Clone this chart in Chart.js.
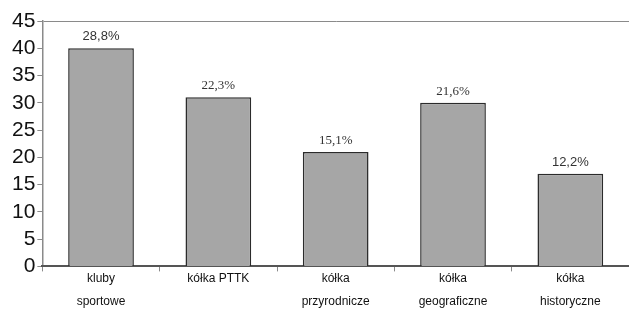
<!DOCTYPE html>
<html>
<head>
<meta charset="utf-8">
<script src="https://cdn.jsdelivr.net/npm/chart.js@4.4.1/dist/chart.umd.min.js"></script>
<style>
  body { margin: 0; background: #fff; }
  #wrap { width: 629px; height: 312px; }
</style>
</head>
<body>
<div id="wrap"><canvas id="chart"></canvas></div>
<script>
const categories = [['kluby', 'sportowe'], ['kółka PTTK'], ['kółka', 'przyrodnicze'], ['kółka', 'geograficzne'], ['kółka', 'historyczne']];
const counts = [40, 31, 21, 30, 17];
const shares = ['28,8%', '22,3%', '15,1%', '21,6%', '12,2%'];
// the source mixes fonts on the value labels
const shareFonts = ['sans', 'serif', 'serif', 'serif', 'sans'];

const valueLabels = {
  id: 'valueLabels',
  afterDatasetsDraw(chart) {
    const ctx = chart.ctx;
    const meta = chart.getDatasetMeta(0);
    ctx.save();
    ctx.textAlign = 'center';
    ctx.textBaseline = 'bottom';
    meta.data.forEach((bar, i) => {
      if (shareFonts[i] == 'serif') {
        ctx.font = '13px "Liberation Serif"';
      } else {
        ctx.font = '13px "Liberation Sans"';
      }
      ctx.fillStyle = '#333';
      ctx.fillText(shares[i], bar.x, bar.y - 5);
    });
    ctx.restore();
  }
};

new Chart(document.getElementById('chart'), {
  type: 'bar',
  data: {
    labels: categories,
    datasets: [{
      data: counts,
      backgroundColor: '#a6a6a6',
      borderColor: '#2b2b2b',
      borderWidth: 1.5,
      barPercentage: 0.56,
      categoryPercentage: 1
    }]
  },
  options: {
    responsive: true,
    maintainAspectRatio: false,
    animation: false,
    layout: { padding: { top: 21, left: 10, right: 0, bottom: 3 } },
    plugins: {
      legend: { display: false },
      tooltip: { enabled: false }
    },
    scales: {
      y: {
        min: 0,
        max: 45,
        ticks: {
          stepSize: 5,
          autoSkip: false,
          color: '#111',
          padding: 2,
          font: { family: 'Liberation Sans', size: 21 }
        },
        grid: {
          color: (c) => c.tick && c.tick.value == 45 ? '#8a8a8a' : 'transparent',
          tickColor: '#8a8a8a',
          tickLength: 5
        },
        border: { color: '#8a8a8a', width: 1.5 }
      },
      x: {
        ticks: {
          color: '#111',
          padding: -4,
          autoSkip: false,
          maxRotation: 0,
          font: { family: 'Liberation Sans', size: 12, lineHeight: 1.9 }
        },
        grid: {
          drawOnChartArea: false,
          tickColor: '#8a8a8a',
          tickLength: 5
        },
        border: { color: '#555', width: 2 }
      }
    }
  },
  plugins: [valueLabels]
});
</script>
</body>
</html>
